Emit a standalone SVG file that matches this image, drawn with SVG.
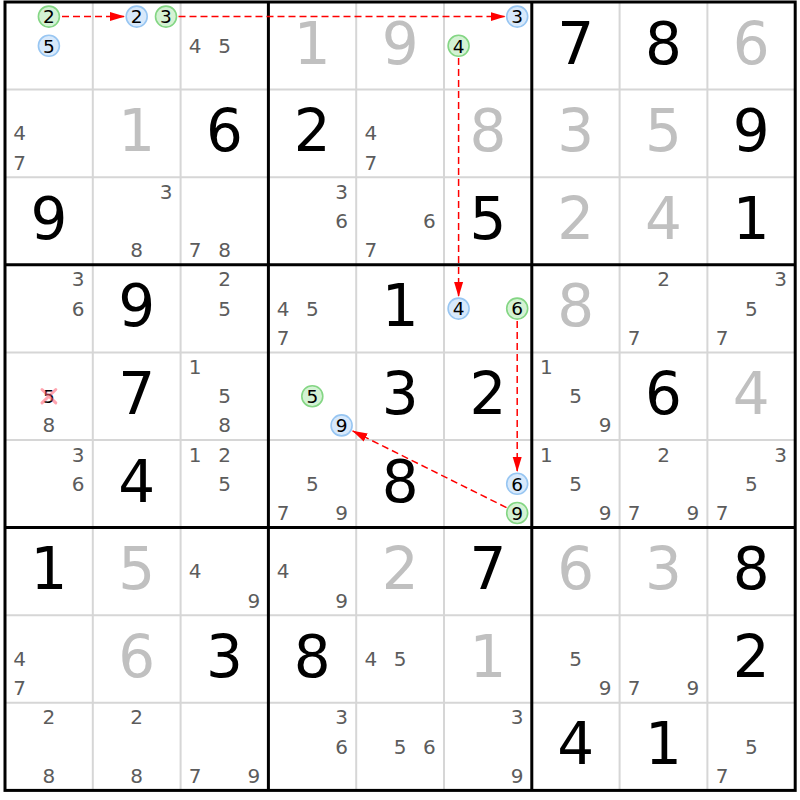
<svg xmlns="http://www.w3.org/2000/svg" width="800" height="800" viewBox="0 0 800 800">
<style>
text{font-family:"DejaVu Sans","Liberation Sans",sans-serif;text-anchor:middle}
.g{font-size:58px;fill:#000}
.s{font-size:58px;fill:#c0c0c0}
.c{font-size:20px;fill:#5c5c5c}
.k{font-size:18.5px;fill:#000}
.cg{fill:#d4f2d4;stroke:#84d684;stroke-width:1.6}
.cb{fill:#d8e9fb;stroke:#98c6f2;stroke-width:1.6}
.thin{stroke:#d6d6d6;stroke-width:2}
.thick{stroke:#000;stroke-width:3;fill:none}
.lnk{stroke:#ff0000;stroke-width:1.5;stroke-dasharray:7 4;fill:none;marker-end:url(#ah)}
.x{stroke:#ff5a6e;stroke-opacity:0.55;stroke-width:3;stroke-linecap:round}
</style>
<defs>
<marker id="ah" markerUnits="userSpaceOnUse" markerWidth="15" markerHeight="10" refX="15" refY="5" orient="auto">
<path d="M0,0.5 L15,5 L0,9.5 z" fill="#ff0000"/>
</marker>
</defs>
<rect width="800" height="800" fill="#fff"/>
<g id="grid">
<path class="thin" d="M92.8,2V790.4M180.6,2V790.4M356.2,2V790.4M444,2V790.4M619.6,2V790.4M707.4,2V790.4M5,89.6H795.2M5,177.2H795.2M5,352.4H795.2M5,440H795.2M5,615.2H795.2M5,702.8H795.2"/>
<path class="thick" d="M268.4,2V790.4M531.8,2V790.4M5,264.8H795.2M5,527.6H795.2"/>
<rect class="thick" x="5" y="2" width="790.2" height="788.4"/>
</g>
<g id="r0c0"><circle class="cg" cx="48.9" cy="16.6" r="10.5"/><text class="k" x="48.9" y="23.3">2</text><circle class="cb" cx="48.9" cy="45.8" r="10.5"/><text class="k" x="48.9" y="52.5">5</text></g>
<g id="r0c1"><circle class="cb" cx="136.7" cy="16.6" r="10.5"/><text class="k" x="136.7" y="23.3">2</text><circle class="cg" cx="166" cy="16.6" r="10.5"/><text class="k" x="166" y="23.3">3</text></g>
<g id="r0c2"><text class="c" x="195.2" y="52.8">4</text><text class="c" x="224.5" y="52.8">5</text></g>
<g id="r0c3"><text class="s" x="312.3" y="63.5">1</text></g>
<g id="r0c4"><text class="s" x="400.1" y="63.5">9</text></g>
<g id="r0c5"><circle class="cb" cx="517.2" cy="16.6" r="10.5"/><text class="k" x="517.2" y="23.3">3</text><circle class="cg" cx="458.6" cy="45.8" r="10.5"/><text class="k" x="458.6" y="52.5">4</text></g>
<g id="r0c6"><text class="g" x="575.7" y="63.5">7</text></g>
<g id="r0c7"><text class="g" x="663.5" y="63.5">8</text></g>
<g id="r0c8"><text class="s" x="751.3" y="63.5">6</text></g>

<g id="r1c0"><text class="c" x="19.6" y="140.4">4</text><text class="c" x="19.6" y="169.6">7</text></g>
<g id="r1c1"><text class="s" x="136.7" y="151.1">1</text></g>
<g id="r1c2"><text class="g" x="224.5" y="151.1">6</text></g>
<g id="r1c3"><text class="g" x="312.3" y="151.1">2</text></g>
<g id="r1c4"><text class="c" x="370.8" y="140.4">4</text><text class="c" x="370.8" y="169.6">7</text></g>
<g id="r1c5"><text class="s" x="487.9" y="151.1">8</text></g>
<g id="r1c6"><text class="s" x="575.7" y="151.1">3</text></g>
<g id="r1c7"><text class="s" x="663.5" y="151.1">5</text></g>
<g id="r1c8"><text class="g" x="751.3" y="151.1">9</text></g>

<g id="r2c0"><text class="g" x="48.9" y="238.7">9</text></g>
<g id="r2c1"><text class="c" x="166" y="198.8">3</text><text class="c" x="136.7" y="257.2">8</text></g>
<g id="r2c2"><text class="c" x="195.2" y="257.2">7</text><text class="c" x="224.5" y="257.2">8</text></g>
<g id="r2c3"><text class="c" x="341.6" y="198.8">3</text><text class="c" x="341.6" y="228">6</text></g>
<g id="r2c4"><text class="c" x="429.4" y="228">6</text><text class="c" x="370.8" y="257.2">7</text></g>
<g id="r2c5"><text class="g" x="487.9" y="238.7">5</text></g>
<g id="r2c6"><text class="s" x="575.7" y="238.7">2</text></g>
<g id="r2c7"><text class="s" x="663.5" y="238.7">4</text></g>
<g id="r2c8"><text class="g" x="751.3" y="238.7">1</text></g>

<g id="r3c0"><text class="c" x="78.2" y="286.4">3</text><text class="c" x="78.2" y="315.6">6</text></g>
<g id="r3c1"><text class="g" x="136.7" y="326.3">9</text></g>
<g id="r3c2"><text class="c" x="224.5" y="286.4">2</text><text class="c" x="224.5" y="315.6">5</text></g>
<g id="r3c3"><text class="c" x="283" y="315.6">4</text><text class="c" x="312.3" y="315.6">5</text><text class="c" x="283" y="344.8">7</text></g>
<g id="r3c4"><text class="g" x="400.1" y="326.3">1</text></g>
<g id="r3c5"><circle class="cb" cx="458.6" cy="308.6" r="10.5"/><text class="k" x="458.6" y="315.3">4</text><circle class="cg" cx="517.2" cy="308.6" r="10.5"/><text class="k" x="517.2" y="315.3">6</text></g>
<g id="r3c6"><text class="s" x="575.7" y="326.3">8</text></g>
<g id="r3c7"><text class="c" x="663.5" y="286.4">2</text><text class="c" x="634.2" y="344.8">7</text></g>
<g id="r3c8"><text class="c" x="780.6" y="286.4">3</text><text class="c" x="751.3" y="315.6">5</text><text class="c" x="722" y="344.8">7</text></g>

<g id="r4c0"><text class="k" x="48.9" y="402.9">5</text><path class="x" d="M42,389.5L55.8,402.9M55.8,389.5L42,402.9"/><text class="c" x="48.9" y="432.4">8</text></g>
<g id="r4c1"><text class="g" x="136.7" y="413.9">7</text></g>
<g id="r4c2"><text class="c" x="195.2" y="374">1</text><text class="c" x="224.5" y="403.2">5</text><text class="c" x="224.5" y="432.4">8</text></g>
<g id="r4c3"><circle class="cg" cx="312.3" cy="396.2" r="10.5"/><text class="k" x="312.3" y="402.9">5</text><circle class="cb" cx="341.6" cy="425.4" r="10.5"/><text class="k" x="341.6" y="432.1">9</text></g>
<g id="r4c4"><text class="g" x="400.1" y="413.9">3</text></g>
<g id="r4c5"><text class="g" x="487.9" y="413.9">2</text></g>
<g id="r4c6"><text class="c" x="546.4" y="374">1</text><text class="c" x="575.7" y="403.2">5</text><text class="c" x="605" y="432.4">9</text></g>
<g id="r4c7"><text class="g" x="663.5" y="413.9">6</text></g>
<g id="r4c8"><text class="s" x="751.3" y="413.9">4</text></g>

<g id="r5c0"><text class="c" x="78.2" y="461.6">3</text><text class="c" x="78.2" y="490.8">6</text></g>
<g id="r5c1"><text class="g" x="136.7" y="501.5">4</text></g>
<g id="r5c2"><text class="c" x="195.2" y="461.6">1</text><text class="c" x="224.5" y="461.6">2</text><text class="c" x="224.5" y="490.8">5</text></g>
<g id="r5c3"><text class="c" x="312.3" y="490.8">5</text><text class="c" x="283" y="520">7</text><text class="c" x="341.6" y="520">9</text></g>
<g id="r5c4"><text class="g" x="400.1" y="501.5">8</text></g>
<g id="r5c5"><circle class="cb" cx="517.2" cy="483.8" r="10.5"/><text class="k" x="517.2" y="490.5">6</text><circle class="cg" cx="517.2" cy="513" r="10.5"/><text class="k" x="517.2" y="519.7">9</text></g>
<g id="r5c6"><text class="c" x="546.4" y="461.6">1</text><text class="c" x="575.7" y="490.8">5</text><text class="c" x="605" y="520">9</text></g>
<g id="r5c7"><text class="c" x="663.5" y="461.6">2</text><text class="c" x="634.2" y="520">7</text><text class="c" x="692.8" y="520">9</text></g>
<g id="r5c8"><text class="c" x="780.6" y="461.6">3</text><text class="c" x="751.3" y="490.8">5</text><text class="c" x="722" y="520">7</text></g>

<g id="r6c0"><text class="g" x="48.9" y="589.1">1</text></g>
<g id="r6c1"><text class="s" x="136.7" y="589.1">5</text></g>
<g id="r6c2"><text class="c" x="195.2" y="578.4">4</text><text class="c" x="253.8" y="607.6">9</text></g>
<g id="r6c3"><text class="c" x="283" y="578.4">4</text><text class="c" x="341.6" y="607.6">9</text></g>
<g id="r6c4"><text class="s" x="400.1" y="589.1">2</text></g>
<g id="r6c5"><text class="g" x="487.9" y="589.1">7</text></g>
<g id="r6c6"><text class="s" x="575.7" y="589.1">6</text></g>
<g id="r6c7"><text class="s" x="663.5" y="589.1">3</text></g>
<g id="r6c8"><text class="g" x="751.3" y="589.1">8</text></g>

<g id="r7c0"><text class="c" x="19.6" y="666">4</text><text class="c" x="19.6" y="695.2">7</text></g>
<g id="r7c1"><text class="s" x="136.7" y="676.7">6</text></g>
<g id="r7c2"><text class="g" x="224.5" y="676.7">3</text></g>
<g id="r7c3"><text class="g" x="312.3" y="676.7">8</text></g>
<g id="r7c4"><text class="c" x="370.8" y="666">4</text><text class="c" x="400.1" y="666">5</text></g>
<g id="r7c5"><text class="s" x="487.9" y="676.7">1</text></g>
<g id="r7c6"><text class="c" x="575.7" y="666">5</text><text class="c" x="605" y="695.2">9</text></g>
<g id="r7c7"><text class="c" x="634.2" y="695.2">7</text><text class="c" x="692.8" y="695.2">9</text></g>
<g id="r7c8"><text class="g" x="751.3" y="676.7">2</text></g>

<g id="r8c0"><text class="c" x="48.9" y="724.4">2</text><text class="c" x="48.9" y="782.8">8</text></g>
<g id="r8c1"><text class="c" x="136.7" y="724.4">2</text><text class="c" x="136.7" y="782.8">8</text></g>
<g id="r8c2"><text class="c" x="195.2" y="782.8">7</text><text class="c" x="253.8" y="782.8">9</text></g>
<g id="r8c3"><text class="c" x="341.6" y="724.4">3</text><text class="c" x="341.6" y="753.6">6</text></g>
<g id="r8c4"><text class="c" x="400.1" y="753.6">5</text><text class="c" x="429.4" y="753.6">6</text></g>
<g id="r8c5"><text class="c" x="517.2" y="724.4">3</text><text class="c" x="517.2" y="782.8">9</text></g>
<g id="r8c6"><text class="g" x="575.7" y="764.3">4</text></g>
<g id="r8c7"><text class="g" x="663.5" y="764.3">1</text></g>
<g id="r8c8"><text class="c" x="751.3" y="753.6">5</text><text class="c" x="722" y="782.8">7</text></g>

<g id="connectors">
<path class="lnk" d="M62,16.6H125"/>
<path class="lnk" d="M178.5,16.6H505.5"/>
<path class="lnk" d="M458.6,58V297"/>
<path class="lnk" d="M517.2,321V472"/>
<path class="lnk" d="M506.5,507.6L352.3,430.8"/>
</g>
</svg>
